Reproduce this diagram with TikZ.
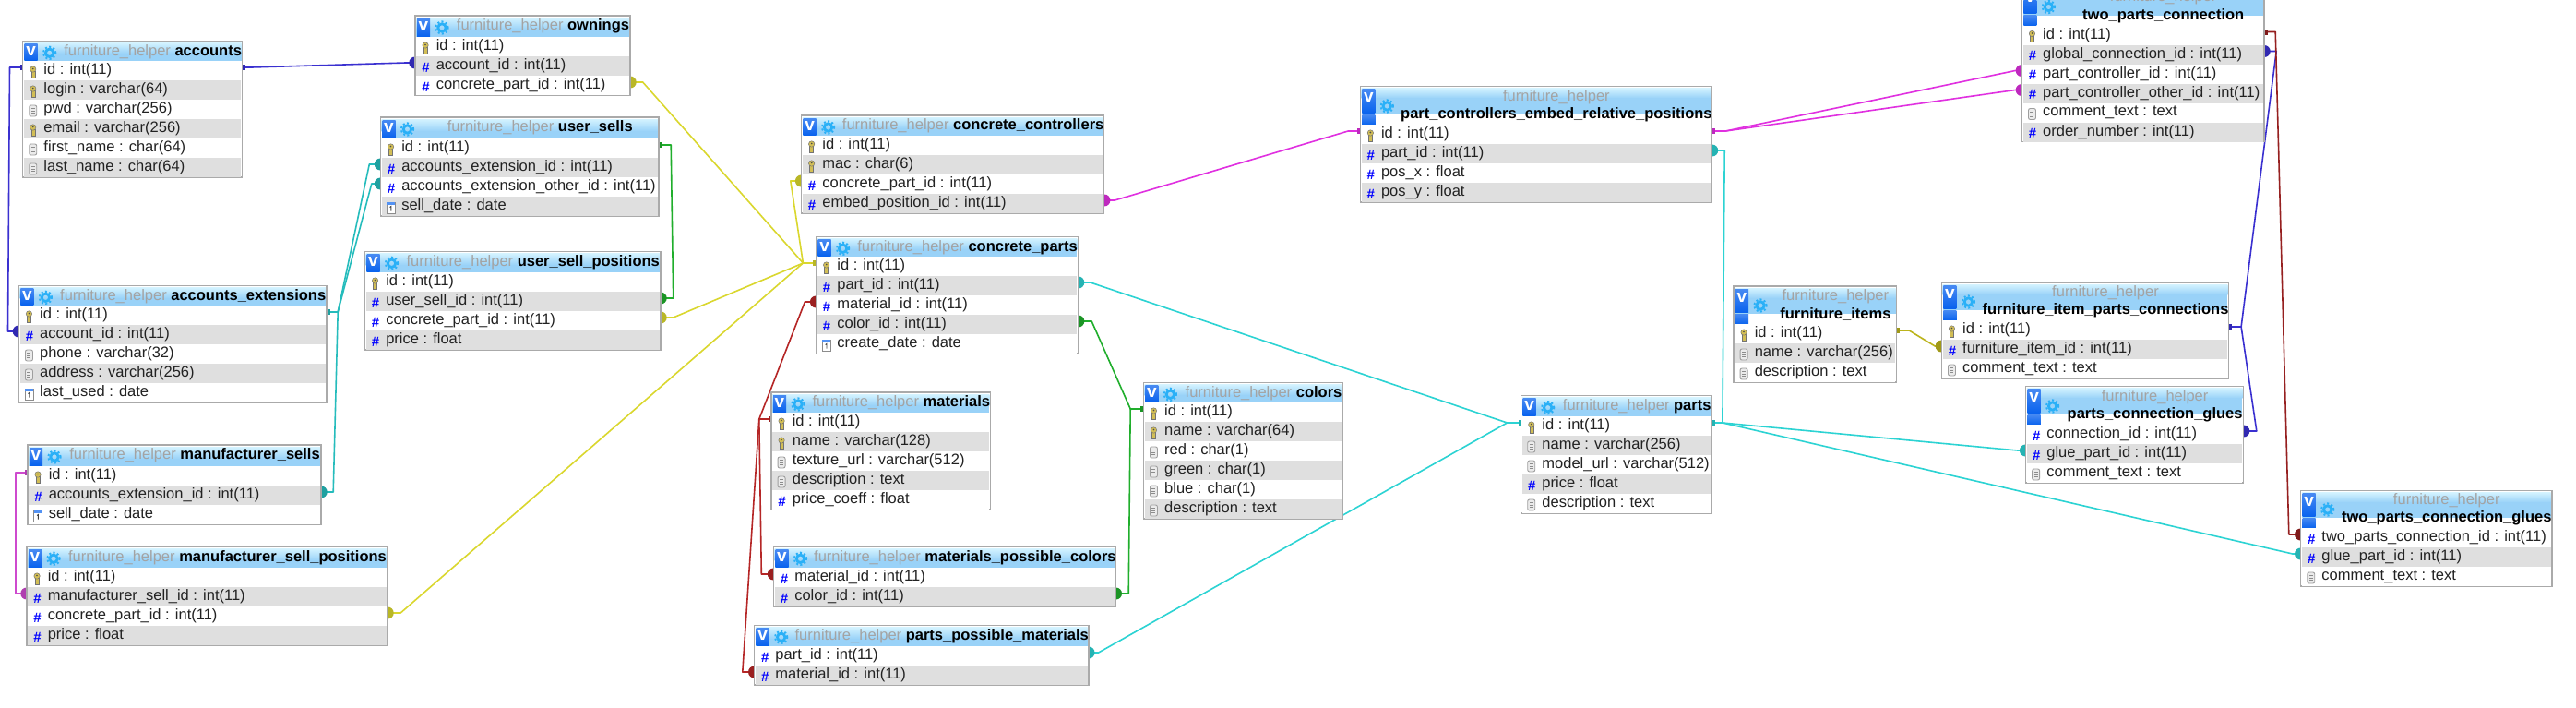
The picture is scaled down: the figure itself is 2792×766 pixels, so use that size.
\documentclass[tikz,border=0pt]{standalone}
\usepackage{fontspec}
\setmainfont{Liberation Sans}
\usetikzlibrary{calc,backgrounds}
\catcode`\_=12

\definecolor{boxgray}{HTML}{AAAAAA}
\definecolor{rowgray}{HTML}{DFDFDF}
\definecolor{rowtext}{HTML}{222222}
\definecolor{schemagray}{HTML}{A3A3A3}
\definecolor{headtop}{HTML}{D4F3FF}
\definecolor{headbot}{HTML}{99D2F8}
\definecolor{vblue}{HTML}{0A63EE}
\definecolor{gearblue}{HTML}{2AB0F7}
\definecolor{keygold}{HTML}{D2BE55}
\definecolor{linkblue}{HTML}{3A30D0}
\definecolor{linkteal}{HTML}{25BCBC}
\definecolor{linkgreen}{HTML}{20AE2C}
\definecolor{linkyellow}{HTML}{DAD72E}
\definecolor{linkmagenta}{HTML}{E030E0}
\definecolor{linkcyan}{HTML}{2CD3D3}
\definecolor{linkred}{HTML}{B52626}
\definecolor{linkolive}{HTML}{BCB41C}
\definecolor{linkdark}{HTML}{962020}
\definecolor{linkpink}{HTML}{CE4ACE}

\tikzset{
  tablebox/.style={draw=boxgray, fill=white, line width=1.5pt},
  dbrow/.style={inner sep=0pt, minimum height=21pt},
  rowlabel/.style={anchor=west, inner sep=0pt, text=rowtext, font=\fontsize{16.5}{18}\selectfont},
  schemalabel/.style={inner sep=0pt, text=schemagray, font=\fontsize{16.5}{18}\selectfont},
  namelabel/.style={inner sep=0pt, text=black, font=\bfseries\fontsize{16.5}{18}\selectfont},
  vmark/.style={inner sep=0pt, text=white, font=\bfseries\fontsize{19}{19}\selectfont},
  hashmark/.style={inner sep=0pt, text=blue, font=\bfseries\fontsize{15}{15}\selectfont},
  linkline/.style={line width=1.6pt, line join=round}
}

% row icons, #1 is the row node
\newcommand{\iconkey}[1]{%
  \coordinate (#1-icon) at ($(#1.west)+(10,1.5)$);
  \fill[keygold,draw=black!55,line width=0.5pt] ($(#1-icon)+(-2,-1)$) rectangle ($(#1-icon)+(2,6)$);
  \fill[keygold,draw=black!55,line width=0.5pt] ($(#1-icon)+(0,-3)$) circle (3.2pt);
  \fill[black!70] ($(#1-icon)+(0,-3.5)$) circle (0.9pt);
}
\newcommand{\iconnum}[1]{%
  \node[hashmark] (#1-icon) at ($(#1.west)+(10.5,1.5)$) {\#};
}
\newcommand{\icondoc}[1]{%
  \coordinate (#1-icon) at ($(#1.west)+(10,1.5)$);
  \draw[fill=black!8,draw=black!38,line width=0.9pt,rounded corners=2pt] ($(#1-icon)+(-4,-6)$) rectangle ($(#1-icon)+(4,6)$);
  \foreach \t in {-2.5,0,2.5}
    \draw[black!45,line width=0.7pt] ($(#1-icon)+(-2,\t)$) -- ($(#1-icon)+(2,\t)$);
}
\newcommand{\icondate}[1]{%
  \coordinate (#1-icon) at ($(#1.west)+(10,1.5)$);
  \draw[fill=white,draw=black!45,line width=0.9pt] ($(#1-icon)+(-4.5,-6)$) rectangle ($(#1-icon)+(4.5,6)$);
  \fill[vblue!70] ($(#1-icon)+(-4.5,-6)$) rectangle ($(#1-icon)+(4.5,-3)$);
  \draw[black!75,line width=0.9pt] ($(#1-icon)+(-1,-0.5)$) -- ($(#1-icon)+(0.3,-1.5)$) -- ($(#1-icon)+(0.3,3.5)$);
}

% name, left, right, top, first row y, number of rows, rows (kind/field/type)
\newcommand{\dbtable}[7]{%
  \pgfmathsetmacro{\midx}{(#2+#3)/2}
  \pgfmathsetmacro{\rowwd}{#3-#2-2.5}
  \pgfmathsetmacro{\boty}{#5+21*#6}
  \pgfmathsetmacro{\titlex}{(#2+44+#3)/2}
  \draw[tablebox] (#2,#4) rectangle (#3,\boty);
  \ifdim\dimexpr#5pt-#4pt\relax>30pt
    % wrapped header, two lines
    \shade[top color=headtop,bottom color=headbot] ($(#2,#4)+(1.2,2)$) rectangle ($(#3,#4)+(-1.2,13)$);
    \fill[headbot] ($(#2,#4)+(1.2,13)$) rectangle ($(#3,#5)+(-1.2,-11)$);
    \shade[top color=vblue!75,bottom color=vblue] ($(#2,#4)+(2,3)$) rectangle ($(#2,#5)+(16,-13)$);
    \shade[top color=vblue!75,bottom color=vblue] ($(#2,#5)+(2,-11)$) rectangle ($(#2,#5)+(16,0)$);
    \node[vmark] (#1-v) at ($(#2,#4)+(9,12)$) {v};
    \coordinate (#1-gear) at ($(#2,#5)+(29,-20)$);
    \node[schemalabel] (#1-schema) at ($(\titlex,#5)+(0,-30)$) {furniture_helper};
    \node[namelabel] (#1-title) at ($(\titlex,#5)+(0,-10.5)$) {#1};
  \else
    % one line header
    \shade[top color=headtop,bottom color=headbot] ($(#2,#4)+(1.2,2)$) rectangle ($(#3,#5)+(-1.2,-8)$);
    \fill[headbot] ($(#2,#5)+(1.2,-8.2)$) rectangle ($(#3,#5)+(-1.2,0)$);
    \shade[top color=vblue!75,bottom color=vblue] ($(#2,#4)+(2,3)$) rectangle ($(#2,#5)+(16,-1)$);
    \node[vmark] (#1-v) at ($(#2,#4)+(9,11)$) {v};
    \coordinate (#1-gear) at ($(#2,#4)+(29,13)$);
    \node[inner sep=0pt] (#1-title) at ($(\titlex,#4)+(0,11.5)$)
      {\fontsize{16.5}{18}\selectfont\textcolor{schemagray}{furniture_helper} \textbf{\textcolor{black}{#1}}};
  \fi
  \draw[gearblue,line width=2.8pt] (#1-gear) circle (4.2pt);
  \draw[gearblue,line width=2pt,dash pattern=on 2pt off 2.4pt] (#1-gear) circle (6.6pt);
  \foreach \kind/\fld/\typ [count=\n] in {#7}{
    \pgfmathsetmacro{\rowy}{#5+21*(\n-1)+10.5}
    \ifodd\n\def\rowbg{white}\else\def\rowbg{rowgray}\fi
    \node[dbrow,fill=\rowbg,minimum width=\rowwd pt] (#1-\fld) at (\midx,\rowy) {};
    \coordinate (#1-\fld-l) at ($(#1-\fld.west)+(-1.25,-3.5)$);
    \coordinate (#1-\fld-r) at ($(#1-\fld.east)+(1.25,-3.5)$);
    \csname icon\kind\endcsname{#1-\fld}
    \node[rowlabel] (#1-\fld-text) at ($(#1-\fld.west)+(21.5,0)$) {\fld\ : \typ};
  }
}

% colour, referenced end, its stub, key end, its stub
\newcommand{\fklink}[5]{%
  \draw[#1,linkline] (#2) -- ++(#3,0) -- ($(#4)+(#5,0)$) -- (#4);
  \fill[#1!85!black] (#4) circle (6.5pt);
  \fill[#1!85!black] ($(#2)+(-3,-3)$) rectangle ($(#2)+(3.5,3)$);
}

\begin{document}
\begin{tikzpicture}[x=1pt, y=-1pt]
  \path[use as bounding box,clip] (0,0) rectangle (2792,766);

  % left group
  \dbtable{accounts}{24.7}{262.7}{44.3}{66}{6}{key/id/int(11), key/login/varchar(64), doc/pwd/varchar(256), key/email/varchar(256), doc/first_name/char(64), doc/last_name/char(64)}
  \dbtable{ownings}{450}{683}{17}{40}{3}{key/id/int(11), num/account_id/int(11), num/concrete_part_id/int(11)}
  \dbtable{user_sells}{412.5}{714}{127}{150}{4}{key/id/int(11), num/accounts_extension_id/int(11), num/accounts_extension_other_id/int(11), date/sell_date/date}
  \dbtable{user_sell_positions}{395.5}{716}{272.3}{295}{4}{key/id/int(11), num/user_sell_id/int(11), num/concrete_part_id/int(11), num/price/float}
  \dbtable{accounts_extensions}{20.4}{354}{309.3}{331}{5}{key/id/int(11), num/account_id/int(11), doc/phone/varchar(32), doc/address/varchar(256), date/last_used/date}
  \dbtable{manufacturer_sells}{30}{348}{482}{505}{3}{key/id/int(11), num/accounts_extension_id/int(11), date/sell_date/date}
  \dbtable{manufacturer_sell_positions}{29}{420}{592.3}{615}{4}{key/id/int(11), num/manufacturer_sell_id/int(11), num/concrete_part_id/int(11), num/price/float}

  % middle group
  \dbtable{concrete_controllers}{868.6}{1196.7}{125}{147}{4}{key/id/int(11), key/mac/char(6), num/concrete_part_id/int(11), num/embed_position_id/int(11)}
  \dbtable{concrete_parts}{884.6}{1168.6}{256.3}{278}{5}{key/id/int(11), num/part_id/int(11), num/material_id/int(11), num/color_id/int(11), date/create_date/date}
  \dbtable{materials}{836}{1073.6}{425}{447}{5}{key/id/int(11), key/name/varchar(128), doc/texture_url/varchar(512), doc/description/text, num/price_coeff/float}
  \dbtable{materials_possible_colors}{838.5}{1209.3}{592.3}{615}{2}{num/material_id/int(11), num/color_id/int(11)}
  \dbtable{parts_possible_materials}{817.7}{1179.8}{677.3}{700}{2}{num/part_id/int(11), num/material_id/int(11)}
  \dbtable{colors}{1239.4}{1455.6}{414.3}{436}{6}{key/id/int(11), key/name/varchar(64), doc/red/char(1), doc/green/char(1), doc/blue/char(1), doc/description/text}

  % right group
  \dbtable{part_controllers_embed_relative_positions}{1474.3}{1855.5}{93.3}{135}{4}{key/id/int(11), num/part_id/int(11), num/pos_x/float, num/pos_y/float}
  \dbtable{parts}{1648.7}{1855.7}{428.7}{451}{5}{key/id/int(11), doc/name/varchar(256), doc/model_url/varchar(512), num/price/float, doc/description/text}
  \dbtable{two_parts_connection}{2191.4}{2454}{-15}{27.5}{6}{key/id/int(11), num/global_connection_id/int(11), num/part_controller_id/int(11), num/part_controller_other_id/int(11), doc/comment_text/text, num/order_number/int(11)}
  \dbtable{furniture_items}{1879}{2055.7}{310}{351}{3}{key/id/int(11), doc/name/varchar(256), doc/description/text}
  \dbtable{furniture_item_parts_connections}{2104.4}{2415.6}{306}{347}{3}{key/id/int(11), num/furniture_item_id/int(11), doc/comment_text/text}
  \dbtable{parts_connection_glues}{2195.6}{2431.6}{418.3}{460}{3}{num/connection_id/int(11), num/glue_part_id/int(11), doc/comment_text/text}
  \dbtable{two_parts_connection_glues}{2493.7}{2765.8}{531.3}{572}{3}{num/two_parts_connection_id/int(11), num/glue_part_id/int(11), doc/comment_text/text}

  % connectors go under the tables
  \begin{scope}[on background layer]
    \fill[white] (0,0) rectangle (2792,766);
    \fklink{linkblue}{accounts-id-r}{10}{ownings-account_id-l}{-10}
    \fklink{linkblue}{accounts-id-l}{-14}{accounts_extensions-account_id-l}{-11.7}
    \fklink{linkteal}{accounts_extensions-id-r}{12}{user_sells-accounts_extension_id-l}{-12}
    \fklink{linkteal}{accounts_extensions-id-r}{12}{user_sells-accounts_extension_other_id-l}{-9.5}
    \fklink{linkteal}{accounts_extensions-id-r}{12}{manufacturer_sells-accounts_extension_id-r}{13}
    \fklink{linkgreen}{user_sells-id-r}{13}{user_sell_positions-user_sell_id-r}{13.5}
    \fklink{linkpink}{manufacturer_sells-id-l}{-13}{manufacturer_sell_positions-manufacturer_sell_id-l}{-12}
    \fklink{linkyellow}{concrete_parts-id-l}{-14}{ownings-concrete_part_id-r}{13.5}
    \fklink{linkyellow}{concrete_parts-id-l}{-14}{user_sell_positions-concrete_part_id-r}{13.5}
    \fklink{linkyellow}{concrete_parts-id-l}{-14}{manufacturer_sell_positions-concrete_part_id-r}{14}
    \fklink{linkyellow}{concrete_parts-id-l}{-14}{concrete_controllers-concrete_part_id-l}{-11.6}
    \fklink{linkmagenta}{part_controllers_embed_relative_positions-id-l}{-13}{concrete_controllers-embed_position_id-r}{11.3}
    \fklink{linkmagenta}{part_controllers_embed_relative_positions-id-r}{14.5}{two_parts_connection-part_controller_id-l}{-7}
    \fklink{linkmagenta}{part_controllers_embed_relative_positions-id-r}{14.5}{two_parts_connection-part_controller_other_id-l}{-7}
    \fklink{linkcyan}{parts-id-l}{-15}{concrete_parts-part_id-r}{13}
    \fklink{linkcyan}{parts-id-l}{-15}{parts_possible_materials-part_id-r}{10.6}
    \fklink{linkcyan}{parts-id-r}{11}{part_controllers_embed_relative_positions-part_id-r}{13.5}
    \fklink{linkcyan}{parts-id-r}{11}{parts_connection_glues-glue_part_id-l}{-8.6}
    \fklink{linkcyan}{parts-id-r}{11}{two_parts_connection_glues-glue_part_id-l}{-8.7}
    \fklink{linkred}{materials-id-l}{-13}{concrete_parts-material_id-l}{-12}
    \fklink{linkred}{materials-id-l}{-13}{materials_possible_colors-material_id-l}{-13}
    \fklink{linkred}{materials-id-l}{-13}{parts_possible_materials-material_id-l}{-12.7}
    \fklink{linkgreen}{colors-id-l}{-14}{concrete_parts-color_id-r}{14.4}
    \fklink{linkgreen}{colors-id-l}{-14}{materials_possible_colors-color_id-r}{13.7}
    \fklink{linkolive}{furniture_items-id-r}{13.3}{furniture_item_parts_connections-furniture_item_id-l}{-7}
    \fklink{linkblue}{furniture_item_parts_connections-id-r}{13.3}{two_parts_connection-global_connection_id-r}{13}
    \fklink{linkblue}{furniture_item_parts_connections-id-r}{13.3}{parts_connection_glues-connection_id-r}{14}
    \fklink{linkdark}{two_parts_connection-id-r}{12}{two_parts_connection_glues-two_parts_connection_id-l}{-12.7}
  \end{scope}
\end{tikzpicture}
\end{document}
